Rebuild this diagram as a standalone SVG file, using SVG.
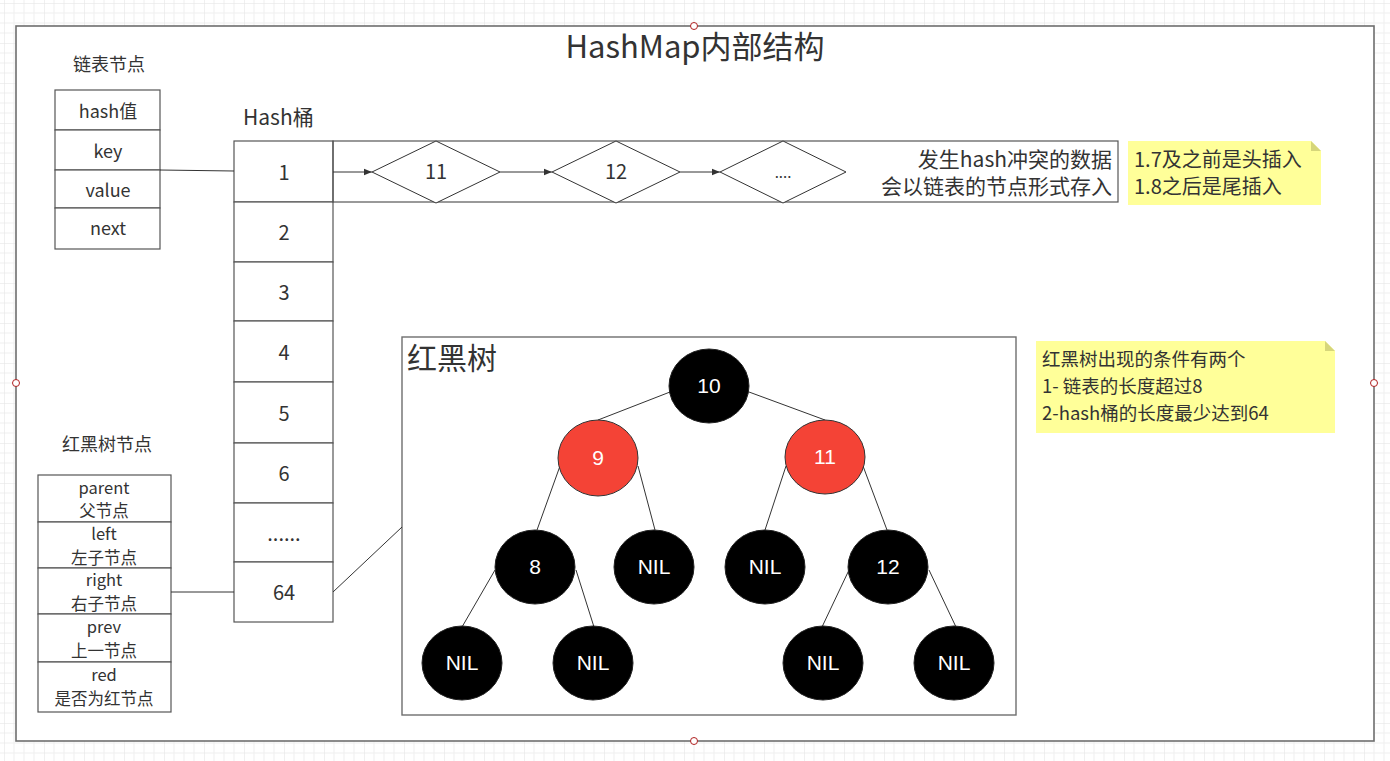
<svg xmlns="http://www.w3.org/2000/svg" width="1390" height="761" viewBox="0 0 1390 761">
<defs>
<pattern id="grid" x="4" y="3" width="40" height="40" patternUnits="userSpaceOnUse">
<path d="M10 0V40M20 0V40M30 0V40M0 10H40M0 20H40M0 30H40" stroke="#efefef" stroke-width="1" fill="none"/>
<path d="M0 0V40M0 0H40" stroke="#e2e2e2" stroke-width="1" fill="none"/>
</pattern>
<marker id="arr" viewBox="0 0 10 10" refX="10" refY="5" markerWidth="8" markerHeight="8" orient="auto" markerUnits="userSpaceOnUse">
<path d="M0 1L10 5L0 9Z" fill="#333"/>
</marker>
<style>
.t{font-family:"Noto Sans CJK SC","Liberation Sans",sans-serif;fill:#333;}
.c{text-anchor:middle;}
.cell{fill:#fff;stroke:#555;stroke-width:1.2;}
.ln{stroke:#333;stroke-width:1;fill:none;}
.blk{fill:#000;stroke:#222;stroke-width:1;}
.red{fill:#f44336;stroke:#333;stroke-width:1;}
.nt{font-family:"Liberation Sans",Arial,sans-serif;font-size:21px;fill:#fff;text-anchor:middle;}
.note{fill:#ffff99;}
.fold{fill:#d6d67a;}
.h{fill:#fff;stroke:#b02020;stroke-width:1;}
</style>
</defs>
<rect width="1390" height="761" fill="#fff"/>
<rect width="1390" height="761" fill="url(#grid)"/>
<rect x="16" y="26" width="1358" height="715" fill="#fff" stroke="#6e6e6e" stroke-width="1.6"/>

<text class="t c" x="695" y="58" font-size="31">HashMap内部结构</text>

<g id="list-node">
<text class="t c" x="109" y="71" font-size="18">链表节点</text>
<rect class="cell" x="55" y="90" width="105" height="40"/>
<rect class="cell" x="55" y="130" width="105" height="40"/>
<rect class="cell" x="55" y="170" width="105" height="38"/>
<rect class="cell" x="55" y="208" width="105" height="41"/>
<text class="t c" x="108" y="118" font-size="18">hash值</text>
<text class="t c" x="108" y="158" font-size="18">key</text>
<text class="t c" x="108" y="197" font-size="18">value</text>
<text class="t c" x="108" y="235" font-size="18">next</text>
</g>

<g id="hash-bucket">
<text class="t" x="243" y="125" font-size="21">Hash桶</text>
<rect class="cell" x="234" y="141" width="99" height="61"/>
<rect class="cell" x="234" y="202" width="99" height="60"/>
<rect class="cell" x="234" y="262" width="99" height="59"/>
<rect class="cell" x="234" y="321" width="99" height="61"/>
<rect class="cell" x="234" y="382" width="99" height="61"/>
<rect class="cell" x="234" y="443" width="99" height="60"/>
<rect class="cell" x="234" y="503" width="99" height="59"/>
<rect class="cell" x="234" y="562" width="99" height="60"/>
<text class="t c" x="284" y="180" font-size="20">1</text>
<text class="t c" x="284" y="240" font-size="20">2</text>
<text class="t c" x="284" y="300" font-size="20">3</text>
<text class="t c" x="284" y="360" font-size="20">4</text>
<text class="t c" x="284" y="421" font-size="20">5</text>
<text class="t c" x="284" y="481" font-size="20">6</text>
<text class="t c" x="284" y="541" font-size="20">......</text>
<text class="t c" x="284" y="600" font-size="20">64</text>
</g>

<g id="collision-list">
<rect x="333" y="141" width="785" height="61" fill="none" stroke="#555" stroke-width="1.2"/>
<text class="t" x="1112" y="167" font-size="21" text-anchor="end">发生hash冲突的数据</text>
<text class="t" x="1112" y="194" font-size="21" text-anchor="end">会以链表的节点形式存入</text>
</g>
<g id="d11"><polygon points="372,172 436,141 500,172 436,203" fill="#fff" stroke="#333" stroke-width="1"/><text class="t c" x="436" y="179" font-size="20">11</text></g>
<g id="d12"><polygon points="552,172 616,141 680,172 616,203" fill="#fff" stroke="#333" stroke-width="1"/><text class="t c" x="616" y="179" font-size="20">12</text></g>
<g id="d13"><polygon points="720,172 783,141 846,172 783,203" fill="#fff" stroke="#333" stroke-width="1"/><text class="t c" x="783" y="178" font-size="15">....</text></g>

<g id="note1">
<path class="note" d="M1128 141H1311L1321 151V205H1128Z"/>
<path class="fold" d="M1311 141L1321 151H1311Z"/>
<text class="t" x="1134" y="167" font-size="20">1.7及之前是头插入</text>
<text class="t" x="1134" y="194" font-size="20">1.8之后是尾插入</text>
</g>

<g id="note2">
<path class="note" d="M1036 341H1325L1335 351V433H1036Z"/>
<path class="fold" d="M1325 341L1335 351H1325Z"/>
<text class="t" x="1042" y="366" font-size="18.5">红黑树出现的条件有两个</text>
<text class="t" x="1042" y="393" font-size="18.5">1- 链表的长度超过8</text>
<text class="t" x="1042" y="420" font-size="18.5">2-hash桶的长度最少达到64</text>
</g>

<g id="rb-node">
<text class="t c" x="107" y="451" font-size="18">红黑树节点</text>
<rect class="cell" x="38" y="475" width="133" height="47"/>
<rect class="cell" x="38" y="522" width="133" height="46"/>
<rect class="cell" x="38" y="568" width="133" height="46"/>
<rect class="cell" x="38" y="614" width="133" height="48"/>
<rect class="cell" x="38" y="662" width="133" height="50"/>
<text class="t c" x="104" y="494" font-size="16.5">parent</text>
<text class="t c" x="104" y="517" font-size="16.5">父节点</text>
<text class="t c" x="104" y="540" font-size="16.5">left</text>
<text class="t c" x="104" y="564" font-size="16.5">左子节点</text>
<text class="t c" x="104" y="586" font-size="16.5">right</text>
<text class="t c" x="104" y="610" font-size="16.5">右子节点</text>
<text class="t c" x="104" y="633" font-size="16.5">prev</text>
<text class="t c" x="104" y="657" font-size="16.5">上一节点</text>
<text class="t c" x="104" y="681" font-size="16.5">red</text>
<text class="t c" x="104" y="705" font-size="16.5">是否为红节点</text>
</g>

<g id="rb-tree">
<rect x="402" y="337" width="614" height="378" fill="#fff" stroke="#6e6e6e" stroke-width="1.4"/>
<text class="t" x="407" y="369" font-size="30">红黑树</text>
</g>

<g id="connectors">
<path class="ln" d="M160 170L234 171"/>
<path class="ln" d="M171 592H234"/>
<path class="ln" d="M333 592L402 527"/>
<path class="ln" d="M333 172H372" marker-end="url(#arr)"/>
<path class="ln" d="M500 172H552" marker-end="url(#arr)"/>
<path class="ln" d="M680 172H720" marker-end="url(#arr)"/>
<path class="ln" d="M670 392L598 420"/>
<path class="ln" d="M749 392L825 420"/>
<path class="ln" d="M560 466L537 530"/>
<path class="ln" d="M638 466L655 530"/>
<path class="ln" d="M786 466L765 530"/>
<path class="ln" d="M863 466L887 530"/>
<path class="ln" d="M495 570L462 627"/>
<path class="ln" d="M576 570L594 627"/>
<path class="ln" d="M849 570L822 627"/>
<path class="ln" d="M929 570L956 627"/>
</g>

<g id="n10"><ellipse class="blk" cx="709" cy="386" rx="40" ry="37"/><text class="nt" x="709" y="393">10</text></g>
<g id="n9"><ellipse class="red" cx="598" cy="458" rx="40" ry="38"/><text class="nt" x="598" y="465">9</text></g>
<g id="n11"><ellipse class="red" cx="825" cy="457" rx="40" ry="37"/><text class="nt" x="825" y="464">11</text></g>
<g id="n8"><ellipse class="blk" cx="535" cy="567" rx="40" ry="37"/><text class="nt" x="535" y="574">8</text></g>
<g id="nil1"><ellipse class="blk" cx="654" cy="567" rx="40" ry="37"/><text class="nt" x="654" y="574">NIL</text></g>
<g id="nil2"><ellipse class="blk" cx="765" cy="567" rx="40" ry="37"/><text class="nt" x="765" y="574">NIL</text></g>
<g id="n12"><ellipse class="blk" cx="888" cy="567" rx="40" ry="37"/><text class="nt" x="888" y="574">12</text></g>
<g id="nil3"><ellipse class="blk" cx="462" cy="663" rx="40" ry="37"/><text class="nt" x="462" y="670">NIL</text></g>
<g id="nil4"><ellipse class="blk" cx="593" cy="663" rx="40" ry="37"/><text class="nt" x="593" y="670">NIL</text></g>
<g id="nil5"><ellipse class="blk" cx="823" cy="663" rx="40" ry="37"/><text class="nt" x="823" y="670">NIL</text></g>
<g id="nil6"><ellipse class="blk" cx="954" cy="663" rx="40" ry="37"/><text class="nt" x="954" y="670">NIL</text></g>

<g id="handles">
<circle class="h" cx="694" cy="26" r="3.5"/>
<circle class="h" cx="16" cy="383" r="3.5"/>
<circle class="h" cx="1374" cy="383" r="3.5"/>
<circle class="h" cx="694" cy="741" r="3.5"/>
</g>
</svg>
